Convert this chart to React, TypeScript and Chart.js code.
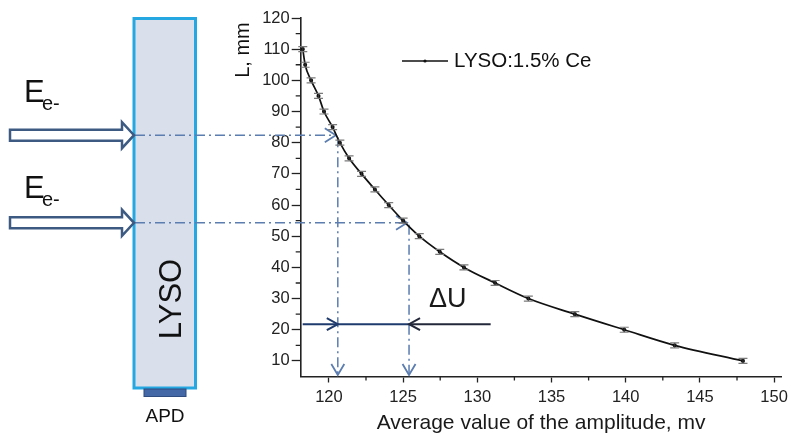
import React, { useEffect, useRef } from 'react';
import { Chart, registerables } from 'chart.js';

Chart.register(...registerables);

// ---- data ----
const amplitude = [118.24, 118.4, 118.8, 119.3, 119.67, 120.25, 120.74, 121.36, 122.2, 123.1, 124.03, 125.0, 126.09, 127.47, 129.1, 131.2, 133.44, 136.57, 139.9, 143.3, 147.9];
const lengthMm = [110, 105, 100, 95, 90, 85, 80, 75, 70, 65, 60, 55, 50, 45, 40, 35, 30, 25, 20, 15, 10];
const lengthErr = [0.8, 0.8, 0.8, 0.8, 0.8, 0.8, 0.8, 0.8, 0.8, 0.8, 0.8, 0.8, 0.8, 0.8, 0.8, 0.8, 0.8, 0.8, 0.8, 0.8, 0.8];
const seriesLabel = 'LYSO:1.5% Ce';

const xTicks = [120, 125, 130, 135, 140, 145, 150];
const xMinorTicks = [122.5, 127.5, 132.5, 137.5, 142.5, 147.5];
const yTicks = [10, 20, 30, 40, 50, 60, 70, 80, 90, 100, 110, 120];
const yMinorTicks = [15, 25, 35, 45, 55, 65, 75, 85, 95, 105, 115];

const xTitle = 'Average value of the amplitude, mv';
const yTitle = 'L, mm';

// guide lines (entry depth L and corresponding amplitude)
const guideDepth = [82.4, 54.3];
const guideAmp = [120.6, 125.4];
const deltaDepth = 21.8;
const deltaEndAmp = 130.9;
const deltaLabel = '\u0394U';

const beamLabel = 'E';
const beamSub = 'e-';
const crystalLabel = 'LYSO';
const sensorLabel = 'APD';

const FONT = '"Liberation Sans", Arial, Helvetica, sans-serif';

function chevron(ctx: CanvasRenderingContext2D, tx: number, ty: number, dx: number, dy: number, len: number, half: number) {
  const bx = tx - dx * len;
  const by = ty - dy * len;
  const px = -dy;
  const py = dx;
  ctx.beginPath();
  ctx.moveTo(bx + px * half, by + py * half);
  ctx.lineTo(tx, ty);
  ctx.lineTo(bx - px * half, by - py * half);
  ctx.stroke();
}

function hollowArrow(ctx: CanvasRenderingContext2D, x0: number, tipX: number, cy: number) {
  const headX = tipX - 12;
  ctx.beginPath();
  ctx.moveTo(x0, cy - 5.5);
  ctx.lineTo(headX, cy - 5.5);
  ctx.lineTo(headX, cy - 13);
  ctx.lineTo(tipX, cy);
  ctx.lineTo(headX, cy + 13);
  ctx.lineTo(headX, cy + 5.5);
  ctx.lineTo(x0, cy + 5.5);
  ctx.closePath();
  ctx.fillStyle = '#ffffff';
  ctx.fill();
  ctx.lineWidth = 2.5;
  ctx.strokeStyle = '#3C5A82';
  ctx.lineJoin = 'miter';
  ctx.stroke();
}

const diagramPlugin = {
  id: 'diagram',
  beforeDatasetsDraw(chart: any) {
    const ctx: CanvasRenderingContext2D = chart.ctx;
    const xs = chart.scales.x;
    const ys = chart.scales.y;
    ctx.save();

    // crystal
    ctx.fillStyle = '#D9E0EC';
    ctx.fillRect(134, 18.5, 61.5, 369.5);
    ctx.strokeStyle = '#25A7E1';
    ctx.lineWidth = 3;
    ctx.strokeRect(134, 18.5, 61.5, 369.5);
    // APD
    ctx.fillStyle = '#4467A6';
    ctx.fillRect(144, 389, 42, 7.5);
    ctx.strokeStyle = '#2F4C80';
    ctx.lineWidth = 1;
    ctx.strokeRect(144, 389, 42, 7.5);

    ctx.fillStyle = '#111';
    ctx.font = `19px ${FONT}`;
    ctx.textAlign = 'center';
    ctx.textBaseline = 'alphabetic';
    ctx.fillText(sensorLabel, 165, 422);

    ctx.save();
    ctx.translate(181, 299);
    ctx.rotate(-Math.PI / 2);
    ctx.font = `31px ${FONT}`;
    ctx.textAlign = 'center';
    ctx.fillText(crystalLabel, 0, 0);
    ctx.restore();

    // guide dash-dot lines
    ctx.strokeStyle = '#5B7DB0';
    ctx.lineWidth = 1.5;
    const bottom = ys.getPixelForValue(ys.min);
    for (let i = 0; i < guideDepth.length; i++) {
      const gy = ys.getPixelForValue(guideDepth[i]);
      const gx = xs.getPixelForValue(guideAmp[i]);
      ctx.setLineDash([10, 4, 2, 4]);
      ctx.beginPath();
      ctx.moveTo(135, gy);
      ctx.lineTo(gx - 2, gy);
      ctx.stroke();
      ctx.beginPath();
      ctx.moveTo(gx, gy + 2);
      ctx.lineTo(gx, bottom - 2);
      ctx.stroke();
      ctx.setLineDash([]);
      ctx.lineWidth = 1.8;
      chevron(ctx, gx - 2, gy, 1, 0, 11, 7);
      chevron(ctx, gx, bottom - 1.5, 0, 1, 11, 6.5);
      ctx.lineWidth = 1.5;
    }

    // delta U arrows
    const dy = ys.getPixelForValue(deltaDepth);
    const x1 = xs.getPixelForValue(guideAmp[0]);
    const x2 = xs.getPixelForValue(guideAmp[1]);
    const x3 = xs.getPixelForValue(deltaEndAmp);
    ctx.lineWidth = 2;
    ctx.strokeStyle = '#1F3B6E';
    ctx.beginPath();
    ctx.moveTo(xs.left + 2, dy);
    ctx.lineTo(x2, dy);
    ctx.stroke();
    chevron(ctx, x1, dy, 1, 0, 11, 6);
    ctx.strokeStyle = '#23283A';
    ctx.beginPath();
    ctx.moveTo(x2, dy);
    ctx.lineTo(x3, dy);
    ctx.stroke();
    chevron(ctx, x2, dy, -1, 0, 11, 6);

    ctx.fillStyle = '#1a1a1a';
    ctx.font = `27px ${FONT}`;
    ctx.textAlign = 'left';
    ctx.textBaseline = 'alphabetic';
    ctx.fillText(deltaLabel, 429, 306.5);

    // beam arrows and labels
    for (let i = 0; i < guideDepth.length; i++) {
      const gy = ys.getPixelForValue(guideDepth[i]);
      hollowArrow(ctx, 10, 134, gy);
    }
    const eBase = [102, 198];
    for (let i = 0; i < eBase.length; i++) {
      ctx.fillStyle = '#111';
      ctx.font = `31px ${FONT}`;
      ctx.textAlign = 'left';
      ctx.fillText(beamLabel, 24, eBase[i]);
      ctx.font = `20px ${FONT}`;
      ctx.fillText(beamSub, 42, eBase[i] + 8);
    }

    ctx.restore();
  },
  afterDatasetsDraw(chart: any) {
    const ctx: CanvasRenderingContext2D = chart.ctx;
    const xs = chart.scales.x;
    const ys = chart.scales.y;
    ctx.save();
    // error bars
    for (let i = 0; i < amplitude.length; i++) {
      const px = xs.getPixelForValue(amplitude[i]);
      const yTop = ys.getPixelForValue(lengthMm[i] + lengthErr[i]);
      const yBot = ys.getPixelForValue(lengthMm[i] - lengthErr[i]);
      ctx.strokeStyle = '#333';
      ctx.lineWidth = 1;
      ctx.beginPath();
      ctx.moveTo(px, yTop);
      ctx.lineTo(px, yBot);
      ctx.stroke();
      ctx.strokeStyle = '#7a7a7a';
      ctx.lineWidth = 1.2;
      ctx.beginPath();
      ctx.moveTo(px - 4.5, yTop);
      ctx.lineTo(px + 4.5, yTop);
      ctx.moveTo(px - 4.5, yBot);
      ctx.lineTo(px + 4.5, yBot);
      ctx.stroke();
    }

    // minor ticks
    ctx.strokeStyle = '#222';
    ctx.lineWidth = 1.3;
    ctx.beginPath();
    for (const v of xMinorTicks) {
      const px = xs.getPixelForValue(v);
      ctx.moveTo(px, ys.bottom);
      ctx.lineTo(px, ys.bottom + 4);
    }
    for (const v of yMinorTicks) {
      const py = ys.getPixelForValue(v);
      ctx.moveTo(xs.left, py);
      ctx.lineTo(xs.left - 5, py);
    }
    ctx.stroke();

    // legend
    ctx.strokeStyle = '#111';
    ctx.lineWidth = 1.6;
    ctx.beginPath();
    ctx.moveTo(402, 61);
    ctx.lineTo(448, 61);
    ctx.stroke();
    ctx.fillStyle = '#111';
    ctx.beginPath();
    ctx.arc(425, 61, 1.6, 0, Math.PI * 2);
    ctx.fill();
    ctx.font = `20.5px ${FONT}`;
    ctx.textAlign = 'left';
    ctx.textBaseline = 'middle';
    ctx.fillText(seriesLabel, 454, 61);

    // y axis title
    ctx.save();
    ctx.translate(243, 50);
    ctx.rotate(-Math.PI / 2);
    ctx.font = `20px ${FONT}`;
    ctx.textAlign = 'center';
    ctx.textBaseline = 'middle';
    ctx.fillText(yTitle, 0, 0);
    ctx.restore();

    ctx.restore();
  },
};

export default function App() {
  const canvasRef = useRef<HTMLCanvasElement | null>(null);

  useEffect(() => {
    const canvas = canvasRef.current;
    if (!canvas) return;
    const chart = new Chart(canvas, {
      type: 'line',
      data: {
        datasets: [
          {
            label: seriesLabel,
            data: amplitude.map((x, i) => ({ x, y: lengthMm[i] })),
            borderColor: '#111',
            backgroundColor: '#111',
            borderWidth: 1.7,
            pointRadius: 1.2,
            pointHoverRadius: 1.2,
            cubicInterpolationMode: 'monotone',
            fill: false,
          },
        ],
      },
      options: {
        responsive: false,
        animation: false,
        devicePixelRatio: 1,
        layout: { padding: { left: 262.7, top: 18, right: 8, bottom: 0 } },
        plugins: {
          legend: { display: false },
          tooltip: { enabled: false },
        },
        scales: {
          x: {
            type: 'linear',
            min: 118.1,
            max: 150.5,
            afterBuildTicks: (s: any) => {
              s.ticks = xTicks.map((v) => ({ value: v }));
            },
            afterFit: (s: any) => {
              s.height = 57.5;
            },
            grid: {
              drawOnChartArea: false,
              drawTicks: true,
              tickLength: 6,
              tickColor: '#222',
              tickWidth: 1.3,
            },
            border: { display: true, color: '#222', width: 1.6 },
            ticks: {
              padding: 5,
              color: '#222',
              font: { family: FONT, size: 16.5 },
              maxRotation: 0,
              autoSkip: false,
            },
            title: {
              display: true,
              text: xTitle,
              color: '#1a1a1a',
              font: { family: FONT, size: 21, lineHeight: 1 },
              padding: { top: 6, bottom: 0 },
            },
          },
          y: {
            type: 'linear',
            min: 5,
            max: 120,
            afterBuildTicks: (s: any) => {
              s.ticks = yTicks.map((v) => ({ value: v }));
            },
            afterFit: (s: any) => {
              s.width = 38;
            },
            grid: {
              drawOnChartArea: false,
              drawTicks: true,
              tickLength: 9,
              tickColor: '#222',
              tickWidth: 1.3,
            },
            border: { display: true, color: '#222', width: 1.6 },
            ticks: {
              padding: 2,
              color: '#222',
              font: { family: FONT, size: 16.5 },
              autoSkip: false,
            },
          },
        },
      },
      plugins: [diagramPlugin],
    } as any);
    return () => chart.destroy();
  }, []);

  return (
    <div style={{ position: 'fixed', left: 0, top: 0, width: 793, height: 434, background: '#fff' }}>
      <canvas ref={canvasRef} width={793} height={434} style={{ display: 'block' }} />
    </div>
  );
}
